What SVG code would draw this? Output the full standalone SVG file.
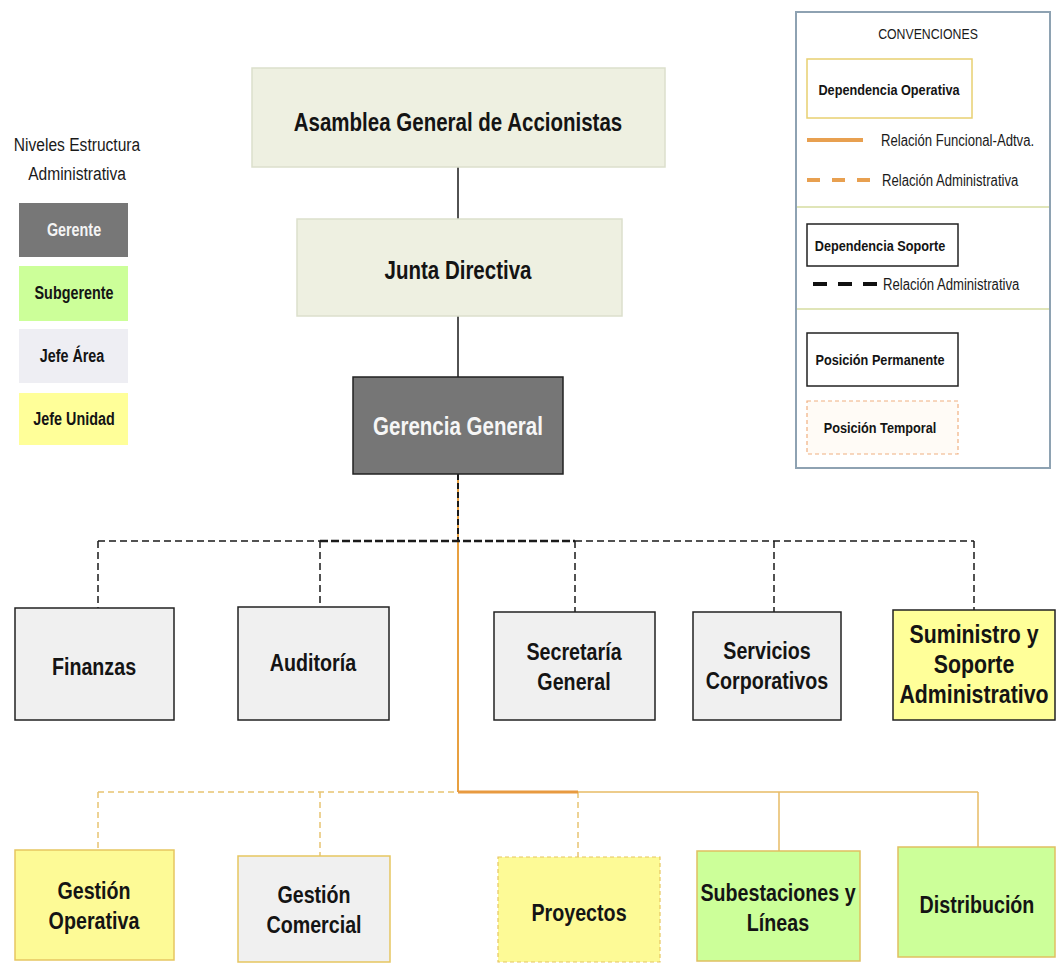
<svg xmlns="http://www.w3.org/2000/svg" width="1060" height="965" viewBox="0 0 1060 965">
<style>
.t{font-family:"Liberation Sans",Arial,sans-serif;font-weight:bold;text-anchor:middle;fill:#141414}
.r{font-family:"Liberation Sans",Arial,sans-serif;fill:#1a1a1a}
.top{fill:#eef0e1;stroke:#dcdfcc;stroke-width:1.5}
.gray{fill:#f0f0f0;stroke:#222;stroke-width:1.5}
.yel{fill:#ffff99;stroke:#222;stroke-width:1.5}
.yelo{fill:#fdfa96;stroke:#e6c660;stroke-width:1.5}
.grayo{fill:#f0f0f0;stroke:#e6c660;stroke-width:1.5}
.grn{fill:#ccff99;stroke:#e0c060;stroke-width:1.5}
.bd{fill:none;stroke:#1a1a1a;stroke-width:1.5;stroke-dasharray:7 4}
.od{fill:none;stroke:#e8c472;stroke-width:1.5;stroke-dasharray:6 4}
.os{fill:none;stroke:#e8bc66;stroke-width:1.5}
</style>

<g id="niveles">
<text class="r" font-size="19" text-anchor="middle" transform="translate(77 151) scale(.82 1)">Niveles Estructura</text>
<text class="r" font-size="19" text-anchor="middle" transform="translate(77 180) scale(.82 1)">Administrativa</text>
<rect x="19" y="203" width="109" height="54" fill="#777777"/>
<text class="t" font-size="17.5" style="fill:#f4f4f4" transform="translate(74 236) scale(.82 1)">Gerente</text>
<rect x="19" y="266" width="109" height="55" fill="#ccff99"/>
<text class="t" font-size="17.5" transform="translate(74 299) scale(.82 1)">Subgerente</text>
<rect x="19" y="329" width="109" height="54" fill="#eeeef3"/>
<text class="t" font-size="17.5" transform="translate(72 362) scale(.82 1)">Jefe Área</text>
<rect x="19" y="393" width="109" height="52" fill="#ffff99"/>
<text class="t" font-size="17.5" transform="translate(74 425) scale(.82 1)">Jefe Unidad</text>
</g>

<g id="convenciones">
<rect x="796" y="12" width="254" height="456" fill="#ffffff" stroke="#8ea2b2" stroke-width="2"/>
<line x1="797" y1="207" x2="1049" y2="207" stroke="#d6dca0" stroke-width="1.5"/>
<line x1="797" y1="309" x2="1049" y2="309" stroke="#d6dca0" stroke-width="1.5"/>
<text class="r" font-size="15" text-anchor="middle" transform="translate(928 39) scale(.82 1)">CONVENCIONES</text>
<rect x="807" y="59" width="165" height="59" fill="#ffffff" stroke="#e8d070" stroke-width="1.5"/>
<text class="t" font-size="15.5" transform="translate(889 95) scale(.82 1)">Dependencia Operativa</text>
<line x1="807" y1="140" x2="863" y2="140" stroke="#e8a050" stroke-width="4"/>
<text class="r" font-size="16" transform="translate(881 146) scale(.82 1)">Relación Funcional-Adtva.</text>
<line x1="807" y1="180" x2="870" y2="180" stroke="#e8a050" stroke-width="4" stroke-dasharray="13 12"/>
<text class="r" font-size="16" transform="translate(882 186) scale(.82 1)">Relación Administrativa</text>
<rect x="807" y="224" width="151" height="42" fill="#ffffff" stroke="#222" stroke-width="1.5"/>
<text class="t" font-size="15.5" transform="translate(880 251) scale(.82 1)">Dependencia Soporte</text>
<line x1="813" y1="284" x2="878" y2="284" stroke="#111" stroke-width="4" stroke-dasharray="14 11"/>
<text class="r" font-size="16" transform="translate(883 290) scale(.82 1)">Relación Administrativa</text>
<rect x="807" y="333" width="151" height="53" fill="#ffffff" stroke="#222" stroke-width="1.5"/>
<text class="t" font-size="15.5" transform="translate(880 365) scale(.82 1)">Posición Permanente</text>
<rect x="807" y="401" width="151" height="53" fill="#fffbf6" stroke="#f0b080" stroke-width="1.2" stroke-dasharray="4 3"/>
<text class="t" font-size="15.5" transform="translate(880 433) scale(.82 1)">Posición Temporal</text>
</g>

<g id="connectors">
<path d="M458,167V219M458,316V377" stroke="#1a1a1a" stroke-width="1.5" fill="none"/>
<path d="M458,474V792" stroke="#e8a040" stroke-width="2" fill="none"/>
<path d="M458,474V541" stroke="#1a1a1a" stroke-width="2" stroke-dasharray="6 3" fill="none"/>
<path class="bd" d="M98,541H320M575,541H974"/>
<path d="M320,541H575" stroke="#1a1a1a" stroke-width="2.5" stroke-dasharray="8 3" fill="none"/>
<path class="bd" d="M98,541V608M320,541V607M575,541V612M774,541V612M974,541V610"/>
<path class="od" d="M98,792H458M98,792V850M320,792V856M578,792V857"/>
<path class="os" d="M578,792H978M779,792V851M978,792V847"/>
<path d="M458,792H578" stroke="#e89a40" stroke-width="3" fill="none"/>
</g>

<g id="asamblea">
<rect class="top" x="252" y="68" width="413" height="99"/>
<text class="t" font-size="25" transform="translate(458 131) scale(.82 1)">Asamblea General de Accionistas</text>
</g>
<g id="junta">
<rect class="top" x="297" y="219" width="325" height="97"/>
<text class="t" font-size="25" transform="translate(458 279) scale(.82 1)">Junta Directiva</text>
</g>
<g id="gerencia">
<rect x="353" y="377" width="210" height="97" fill="#767676" stroke="#222" stroke-width="1.5"/>
<text class="t" font-size="25" style="fill:#f6f6f6" transform="translate(458 435) scale(.82 1)">Gerencia General</text>
</g>

<g id="finanzas">
<rect class="gray" x="15" y="608" width="159" height="112"/>
<text class="t" font-size="24" transform="translate(94 675) scale(.82 1)">Finanzas</text>
</g>
<g id="auditoria">
<rect class="gray" x="238" y="607" width="151" height="113"/>
<text class="t" font-size="24" transform="translate(313 671) scale(.82 1)">Auditoría</text>
</g>
<g id="secretaria">
<rect class="gray" x="494" y="612" width="161" height="108"/>
<text class="t" font-size="24" transform="translate(574 660) scale(.82 1)">Secretaría</text>
<text class="t" font-size="24" transform="translate(574 690) scale(.82 1)">General</text>
</g>
<g id="servicios">
<rect class="gray" x="693" y="612" width="148" height="108"/>
<text class="t" font-size="24" transform="translate(767 659) scale(.82 1)">Servicios</text>
<text class="t" font-size="24" transform="translate(767 689) scale(.82 1)">Corporativos</text>
</g>
<g id="suministro">
<rect class="yel" x="893" y="610" width="162" height="110"/>
<text class="t" font-size="26" transform="translate(974 643) scale(.82 1)">Suministro y</text>
<text class="t" font-size="26" transform="translate(974 673) scale(.82 1)">Soporte</text>
<text class="t" font-size="26" transform="translate(974 703) scale(.82 1)">Administrativo</text>
</g>

<g id="gestion-operativa">
<rect class="yelo" x="15" y="850" width="159" height="110"/>
<text class="t" font-size="24" transform="translate(94 899) scale(.82 1)">Gestión</text>
<text class="t" font-size="24" transform="translate(94 929) scale(.82 1)">Operativa</text>
</g>
<g id="gestion-comercial">
<rect class="grayo" x="238" y="856" width="152" height="106"/>
<text class="t" font-size="24" transform="translate(314 903) scale(.82 1)">Gestión</text>
<text class="t" font-size="24" transform="translate(314 933) scale(.82 1)">Comercial</text>
</g>
<g id="proyectos">
<rect x="498" y="857" width="162" height="105" fill="#fdfa96" stroke="#e6c660" stroke-width="1.2" stroke-dasharray="4 3"/>
<text class="t" font-size="24" transform="translate(579 921) scale(.82 1)">Proyectos</text>
</g>
<g id="subestaciones">
<rect class="grn" x="697" y="851" width="163" height="110"/>
<text class="t" font-size="24" transform="translate(778 901) scale(.82 1)">Subestaciones y</text>
<text class="t" font-size="24" transform="translate(778 931) scale(.82 1)">Líneas</text>
</g>
<g id="distribucion">
<rect class="grn" x="898" y="847" width="157" height="110"/>
<text class="t" font-size="24" transform="translate(977 913) scale(.82 1)">Distribución</text>
</g>
</svg>
